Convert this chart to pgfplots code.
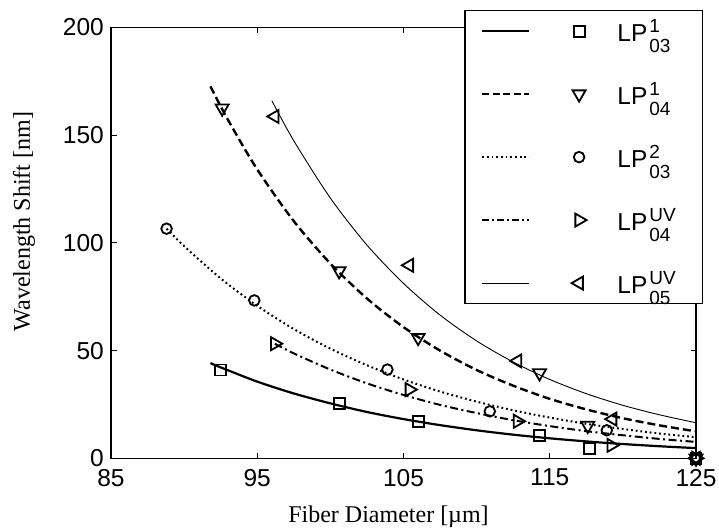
\documentclass[border=0pt]{standalone}
\usepackage{pgfplots}
\pgfplotsset{compat=1.18}
\usepackage{fontspec}
\setmainfont{Liberation Sans}
\newfontfamily\serif{Liberation Serif}
\newcommand{\lp}[2]{LP\makebox[0pt][l]{\kern2pt\raisebox{8.4pt}{\fontsize{19}{19}\selectfont #1}}\kern2pt\raisebox{-11.6pt}{\fontsize{19}{19}\selectfont #2}}
\begin{document}
\begin{tikzpicture}[x=1pt,y=1pt]
\useasboundingbox (0,0) rectangle (719,527);
\begin{axis}[
  at={(111pt,68.7pt)}, anchor=south west,
  scale only axis, width=585pt, height=430.8pt,
  xmin=85, xmax=125, ymin=0, ymax=200,
  xtick={85,95,105,115,125}, ytick={0,50,100,150,200},
  tick align=inside, major tick length=5.5pt,
  every tick/.style={black, line width=1.1pt},
  axis line style={black, line width=1.2pt},
  /pgf/number format/assume math mode=true,
  ticklabel style={font=\fontsize{24.5}{28}\selectfont},
  xticklabel style={inner sep=0pt, yshift=-10.4pt},
  yticklabel style={inner sep=0pt, xshift=-7pt},
  xlabel={Fiber Diameter [µm]},
  ylabel={Wavelength Shift [nm]},
  xlabel style={at={(axis description cs:0.4744,-0.1479)}, anchor=base, font=\serif\fontsize{24}{28}\selectfont},
  ylabel style={at={(axis description cs:-0.1385,0.5497)}, anchor=base, font=\serif\fontsize{24}{28}\selectfont},
  clip mode=individual,
  legend image code/.code={
    \draw[#1, mark=none] (0pt,10pt) -- (47pt,10pt);
    \draw[#1] plot coordinates {(97pt,10pt)};
  },
  legend style={at={(1.01197,1.0406)}, anchor=north east, draw=black, line width=1.2pt, fill=white,
    inner xsep=16pt, inner ysep=8.5pt, row sep=39pt, column sep=30.8pt,
    nodes={inner sep=0pt, anchor=base west, text height=22pt, text depth=2pt, text width=69pt, font=\fontsize{24.5}{28}\selectfont}},
]
% LP03^1
\addplot[black, line width=2.2pt, smooth, forget plot] coordinates {(91.8,44.2)(92.5,42.2)(95,35.6)(97.5,30.1)(100,25.5)(102.5,21.5)(105,18.2)(107.5,15.4)(110,13.0)(112.5,10.97)(115,9.28)(117.5,7.84)(120,6.63)(122.5,5.60)(125,4.73)};
\addplot[black, only marks, mark=square, mark size=5.5pt, mark options={line width=1.8pt}, forget plot] coordinates {(92.5,41)(100.6,25.4)(106.0,16.9)(114.3,10.7)(117.7,4.5)(125,0)};
% LP04^1
\addplot[black, line width=2.4pt, dash pattern=on 8pt off 4pt, smooth, forget plot] coordinates {(91.8,172.7)(92,170)(93,157.1)(95,134.1)(97.5,110.1)(100,90.4)(102.5,74.2)(105,60.9)(107.5,50.0)(110,41.0)(112.5,33.7)(115,27.6)(117.5,22.7)(120,18.6)(122.5,15.3)(125,12.5)};
\addplot[black, only marks, mark=triangle, mark size=7.5pt, mark options={solid, rotate=180, line width=1.8pt}, forget plot] coordinates {(92.6,162.5)(100.6,87)(106.0,56)(114.3,39.6)(117.6,15.2)(125,0)};
% LP03^2
\addplot[black, line width=2pt, dash pattern=on 1.8pt off 2.9pt, smooth, forget plot] coordinates {(88.8,106.6)(90,98.5)(92.5,83.5)(95,70.8)(97.5,60.0)(100,50.9)(102.5,43.2)(105,36.6)(107.5,31.0)(110,26.3)(112.5,22.3)(115,18.9)(117.5,16.0)(120,13.6)(122.5,11.5)(125,9.8)};
\addplot[black, only marks, mark=o, mark size=5.3pt, mark options={solid, line width=1.8pt}, forget plot] coordinates {(88.8,106.6)(94.8,73.3)(103.9,41.2)(110.9,21.8)(118.9,13)(125,0)};
% LP04^UV
\addplot[black, line width=2pt, dash pattern=on 8pt off 3.5pt on 2pt off 3.5pt, smooth, forget plot] coordinates {(96.2,53.2)(97.5,48.7)(100,41.2)(102.5,34.8)(105,29.4)(107.5,24.8)(110,21.0)(112.5,17.7)(115,14.95)(117.5,12.6)(120,10.7)(122.5,9.0)(125,7.6)};
\addplot[black, only marks, mark=triangle, mark size=7.5pt, mark options={solid, rotate=-90, line width=1.8pt}, forget plot] coordinates {(96.2,53.2)(105.4,31.9)(112.8,17.2)(119.2,6)(125,0)};
% LP05^UV
\addplot[black, line width=0.9pt, smooth, forget plot] coordinates {(96,166)(97.5,147.4)(100,120.8)(102.5,99.0)(105,81.2)(107.5,66.5)(110,54.5)(112.5,44.7)(115,36.6)(117.5,30.0)(120,24.6)(122.5,20.2)(125,16.5)};
\addplot[black, only marks, mark=triangle, mark size=7.5pt, mark options={solid, rotate=90, line width=1.8pt}, forget plot] coordinates {(96.2,158.7)(105.4,89.6)(112.8,45.2)(119.3,18.2)(125,0)};
% legend
\addlegendimage{black, line width=2.2pt, mark=square, mark size=5.5pt, mark options={solid, line width=1.8pt}}
\addlegendentry{\lp{1}{03}}
\addlegendimage{black, line width=2.4pt, dash pattern=on 7pt off 3.5pt, mark=triangle, mark size=7.5pt, mark options={solid, rotate=180, line width=1.8pt}}
\addlegendentry{\lp{1}{04}}
\addlegendimage{black, line width=2pt, dash pattern=on 1.8pt off 2.9pt, mark=o, mark size=5.3pt, mark options={solid, line width=1.8pt}}
\addlegendentry{\lp{2}{03}}
\addlegendimage{black, line width=2pt, dash pattern=on 7pt off 3pt on 2pt off 3pt, mark=triangle, mark size=7.5pt, mark options={solid, rotate=-90, line width=1.8pt}}
\addlegendentry{\lp{UV}{04}}
\addlegendimage{black, line width=0.9pt, mark=triangle, mark size=7.5pt, mark options={solid, rotate=90, line width=1.8pt}}
\addlegendentry{\lp{UV}{05}}
\end{axis}
\end{tikzpicture}
\end{document}
